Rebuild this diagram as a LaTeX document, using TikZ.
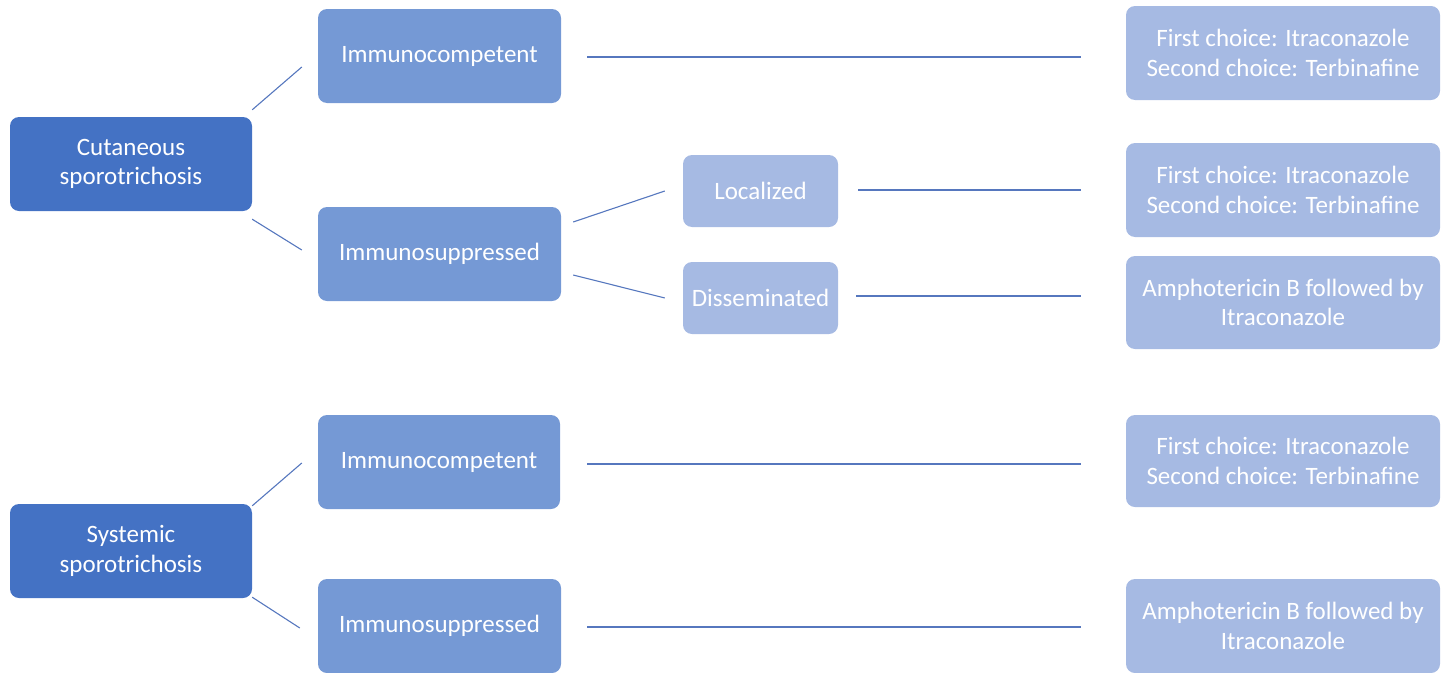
\documentclass[tikz,border=0pt]{standalone}
\usepackage{fontspec}
\setmainfont{Carlito}
\usetikzlibrary{calc}
\definecolor{cdark}{HTML}{4472C4}
\definecolor{cmid}{HTML}{7599D5}
\definecolor{clight}{HTML}{A6BAE3}
\definecolor{cline}{HTML}{5677BE}
\tikzset{
  x=1pt,y=-1pt,
  boxbase/.style={rectangle, rounded corners=9pt, text=white, align=center, inner sep=0pt, font=\fontsize{25}{29.5}\selectfont},
  lvlone/.style={boxbase, fill=cdark},
  lvltwo/.style={boxbase, fill=cmid},
  lvlthree/.style={boxbase, fill=clight},
  conn/.style={draw=cline, line width=1.1pt},
}
\begin{document}
\begin{tikzpicture}
\useasboundingbox (0,0) rectangle (1445,672);
\clip (0,0) rectangle (1445,672);
% level one
\node[lvlone, minimum width=242pt, minimum height=94pt] (cut) at (131,164) {Cutaneous\\sporotrichosis};
\node[lvlone, minimum width=242pt, minimum height=94pt] (sys) at (131,551) {Systemic\\sporotrichosis};
% level two
\node[lvltwo, minimum width=243pt, minimum height=94pt] (ic1) at (439.5,56) {Immunocompetent};
\node[lvltwo, minimum width=243pt, minimum height=94pt] (is1) at (439.5,254) {Immunosuppressed};
\node[lvltwo, minimum width=242pt, minimum height=94pt] (ic2) at (439,462) {Immunocompetent};
\node[lvltwo, minimum width=243pt, minimum height=94pt] (is2) at (439.5,626) {Immunosuppressed};
% level three
\node[lvlthree, minimum width=155pt, minimum height=72pt] (loc) at (760.5,191) {Localized};
\node[lvlthree, minimum width=155pt, minimum height=72pt] (dis) at (760.5,298) {Disseminated};
% right
\node[lvlthree, minimum width=314pt, minimum height=94pt] (r1) at (1283,53) {First choice: Itraconazole\\Second choice: Terbinafine};
\node[lvlthree, minimum width=314pt, minimum height=94pt] (r2) at (1283,190) {First choice: Itraconazole\\Second choice: Terbinafine};
\node[lvlthree, minimum width=314pt, minimum height=93pt] (r3) at (1283,302.5) {Amphotericin B followed by\\Itraconazole};
\node[lvlthree, minimum width=314pt, minimum height=92pt] (r4) at (1283,461) {First choice: Itraconazole\\Second choice: Terbinafine};
\node[lvlthree, minimum width=314pt, minimum height=94pt] (r5) at (1283,626) {Amphotericin B followed by\\Itraconazole};
% connector end points
\coordinate (a1) at ($(cut.north east)+(0,-7)$);
\coordinate (a2) at ($(ic1.west)+(-16,11)$);
\coordinate (b1) at ($(cut.south east)+(0,8)$);
\coordinate (b2) at ($(is1.west)+(-16,-4)$);
\coordinate (c1) at ($(ic1.east)+(26,1)$);
\coordinate (c2) at ($(r1.west)+(-45,4)$);
\coordinate (d1) at ($(is1.east)+(12,-32)$);
\coordinate (d2) at ($(loc.west)+(-18,0)$);
\coordinate (e1) at ($(is1.east)+(12,21)$);
\coordinate (e2) at ($(dis.west)+(-18,0)$);
\coordinate (f1) at ($(loc.east)+(20,-1)$);
\coordinate (f2) at ($(r2.west)+(-45,0)$);
\coordinate (g1) at ($(dis.east)+(18,-2)$);
\coordinate (g2) at ($(r3.west)+(-45,-6.5)$);
\coordinate (h1) at ($(sys.north east)+(0,2)$);
\coordinate (h2) at ($(ic2.west)+(-16,1)$);
\coordinate (i1) at ($(sys.south east)+(0,-1)$);
\coordinate (i2) at ($(is2.west)+(-18,2)$);
\coordinate (j1) at ($(ic2.east)+(27,2)$);
\coordinate (j2) at ($(r4.west)+(-45,3)$);
\coordinate (k1) at ($(is2.east)+(26,1)$);
\coordinate (k2) at ($(r5.west)+(-45,1)$);
\draw[conn] (a1) -- (a2);
\draw[conn] (b1) -- (b2);
\draw[conn] (c1) -- (c2);
\draw[conn] (d1) -- (d2);
\draw[conn] (e1) -- (e2);
\draw[conn] (f1) -- (f2);
\draw[conn] (g1) -- (g2);
\draw[conn] (h1) -- (h2);
\draw[conn] (i1) -- (i2);
\draw[conn] (j1) -- (j2);
\draw[conn] (k1) -- (k2);
\end{tikzpicture}
\end{document}
